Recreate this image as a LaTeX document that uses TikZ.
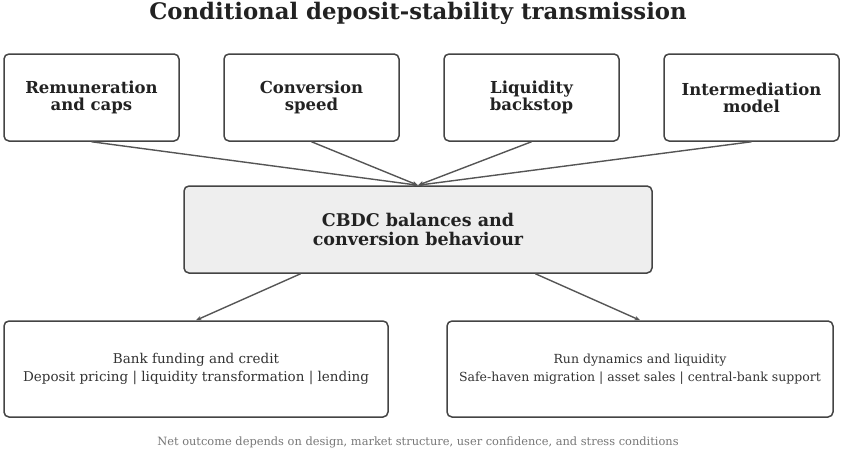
\documentclass[tikz,border=0pt]{standalone}
\usepackage{fontspec}
\setmainfont{DejaVu Serif}
\usetikzlibrary{arrows.meta,calc}
\definecolor{boxline}{HTML}{444444}
\definecolor{arrowc}{HTML}{555555}
\definecolor{midfill}{HTML}{EEEEEE}
\definecolor{txtdark}{HTML}{222222}
\definecolor{txtbody}{HTML}{333333}
\definecolor{txtnote}{HTML}{777777}
\begin{document}
\begin{tikzpicture}[x=1pt,y=-1pt,
  topbox/.style={draw=boxline,line width=1.5pt,rounded corners=5pt,minimum width=175pt,minimum height=87pt,inner sep=0pt,align=center,font=\bfseries\fontsize{16.5}{17}\selectfont,text=txtdark},
  midbox/.style={draw=boxline,line width=1.5pt,rounded corners=5pt,fill=midfill,minimum width=468pt,minimum height=87pt,inner sep=0pt,align=center,font=\bfseries\fontsize{17.5}{19}\selectfont,text=txtdark},
  botbox/.style={draw=boxline,line width=1.5pt,rounded corners=5pt,minimum height=96pt,inner sep=0pt,align=center,text=txtbody},
  conn/.style={draw=arrowc,line width=1.4pt,-{Stealth[length=5.5pt,width=4.5pt]}}]
\useasboundingbox (0,0) rectangle (861,458);
\node[font=\bfseries\fontsize{22.8}{24}\selectfont,text=txtdark] (title) at (418,13) {Conditional deposit-stability transmission};
\node[topbox] (t1) at (91.5,97.5) {Remuneration\\and caps};
\node[topbox] (t2) at (311.5,97.5) {Conversion\\speed};
\node[topbox] (t3) at (531.5,97.5) {Liquidity\\backstop};
\node[topbox] (t4) at (751.5,97.5) {Intermediation\\model};
\node[midbox] (m) at (418,229.5) {CBDC balances and\\conversion behaviour};
\node[botbox,minimum width=384pt,font=\fontsize{13.5}{18.5}\selectfont] (b1) at (196,369) {Bank funding and credit\\Deposit pricing | liquidity transformation | lending};
\node[botbox,minimum width=386pt,font=\fontsize{12.5}{17.5}\selectfont] (b2) at (640,369) {Run dynamics and liquidity\\Safe-haven migration | asset sales | central-bank support};
\node[font=\fontsize{11.4}{13}\selectfont,text=txtnote] (note) at (418,442) {Net outcome depends on design, market structure, user confidence, and stress conditions};
\foreach \t in {t1,t2,t3,t4} \draw[conn] (\t.south) -- (m.north);
\draw[conn] ($(m.south west)!0.25!(m.south east)$) -- (b1.north);
\draw[conn] ($(m.south west)!0.75!(m.south east)$) -- (b2.north);
\end{tikzpicture}
\end{document}
